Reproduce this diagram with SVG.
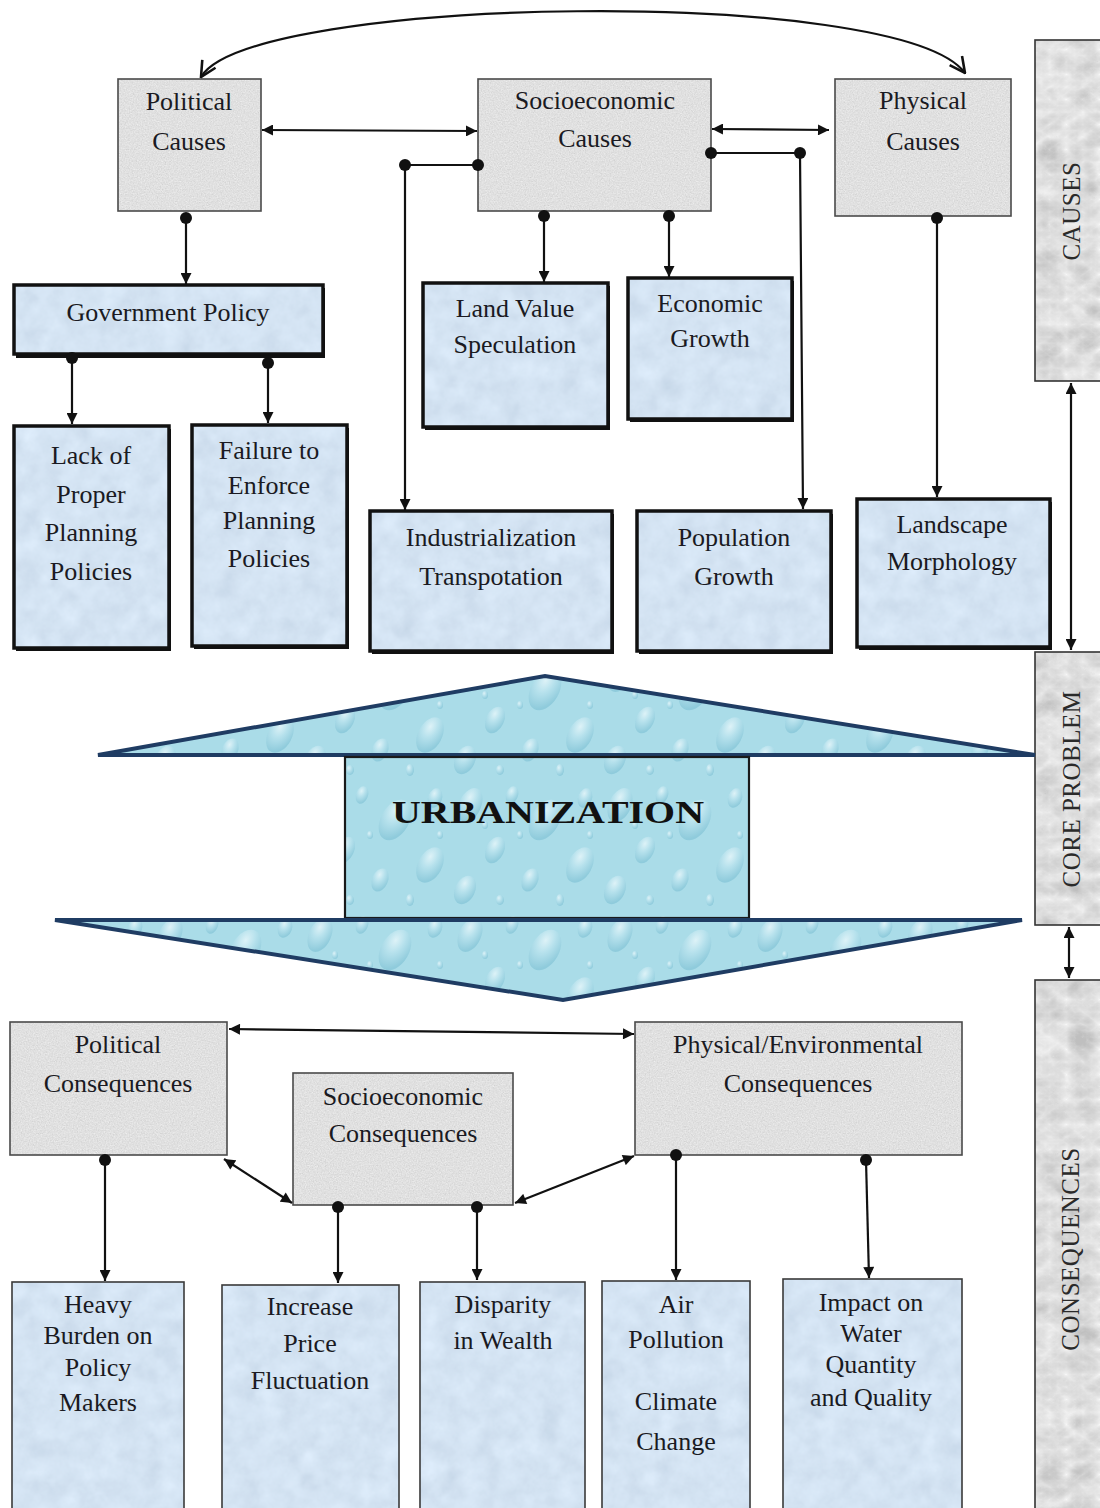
<svg xmlns="http://www.w3.org/2000/svg" width="1100" height="1508" viewBox="0 0 1100 1508">
<style>
text{font-family:"Liberation Serif","Times New Roman","DejaVu Serif",serif;font-size:26px;fill:#1a1a22;text-anchor:middle}
.side{font-size:25px;fill:#2a2a2a;letter-spacing:0.5px}
.gfill{fill:#ebebeb;filter:url(#granite)}
.gbox{fill:none;stroke:#4a4a4a;stroke-width:1.6}
.bfill{fill:#d6e6f6;filter:url(#mottle)}
.bthick{fill:none;stroke:#111;stroke-width:3.5}
.bthin{fill:none;stroke:#3a3a3a;stroke-width:1.6}
.shadow{fill:#111}
.mfill{fill:#e4e4e4;filter:url(#marble)}
.mbox{fill:none;stroke:#333;stroke-width:1.6}
.c{fill:none;stroke:#111;stroke-width:2.2}
.dot{fill:#111}
.ur{font-weight:bold;font-size:32px;fill:#111}
</style>
<defs>
<filter id="granite" x="0" y="0" width="1" height="1">
<feTurbulence type="fractalNoise" baseFrequency="0.75" numOctaves="3" seed="4" result="t"/>
<feColorMatrix in="t" type="matrix" values="0.33 0.33 0.33 0 0 0.33 0.33 0.33 0 0 0.33 0.33 0.33 0 0 0 0 0 0 1" result="g"/>
<feComposite in="g" in2="SourceGraphic" operator="arithmetic" k1="0" k2="0.45" k3="0.92" k4="-0.24" result="m"/>
<feComposite in="m" in2="SourceGraphic" operator="in"/>
</filter>
<filter id="mottle" x="0" y="0" width="1" height="1">
<feTurbulence type="fractalNoise" baseFrequency="0.05" numOctaves="4" seed="7" result="t"/>
<feColorMatrix in="t" type="matrix" values="0.33 0.33 0.33 0 0 0.33 0.33 0.33 0 0 0.33 0.33 0.33 0 0 0 0 0 0 1" result="g"/>
<feComposite in="g" in2="SourceGraphic" operator="arithmetic" k1="0" k2="0.3" k3="0.95" k4="-0.13" result="m"/>
<feComposite in="m" in2="SourceGraphic" operator="in"/>
</filter>
<filter id="marble" x="0" y="0" width="1" height="1">
<feTurbulence type="turbulence" baseFrequency="0.03 0.04" numOctaves="4" seed="11" result="t"/>
<feColorMatrix in="t" type="matrix" values="-0.5 -0.5 -0.5 0 1 -0.5 -0.5 -0.5 0 1 -0.5 -0.5 -0.5 0 1 0 0 0 0 1" result="g"/>
<feComposite in="g" in2="SourceGraphic" operator="arithmetic" k1="0" k2="0.4" k3="0.8" k4="-0.1" result="m"/>
<feComposite in="m" in2="SourceGraphic" operator="in"/>
</filter>
<radialGradient id="drop" cx="0.35" cy="0.3" r="0.7">
<stop offset="0" stop-color="#eefafd"/>
<stop offset="0.45" stop-color="#b9e3ee"/>
<stop offset="1" stop-color="#86c6d8"/>
</radialGradient>
<pattern id="water" patternUnits="userSpaceOnUse" width="150" height="130">
<rect width="150" height="130" fill="#aadce8"/>
<g fill="url(#drop)" opacity="0.75">
<ellipse cx="20" cy="25" rx="11" ry="18" transform="rotate(25 20 25)"/>
<ellipse cx="62" cy="15" rx="6" ry="9" transform="rotate(20 62 15)"/>
<ellipse cx="95" cy="40" rx="14" ry="22" transform="rotate(30 95 40)"/>
<ellipse cx="135" cy="18" rx="7" ry="10" transform="rotate(20 135 18)"/>
<ellipse cx="45" cy="70" rx="9" ry="14" transform="rotate(25 45 70)"/>
<ellipse cx="130" cy="85" rx="12" ry="19" transform="rotate(28 130 85)"/>
<ellipse cx="80" cy="100" rx="8" ry="12" transform="rotate(22 80 100)"/>
<ellipse cx="15" cy="110" rx="10" ry="15" transform="rotate(25 15 110)"/>
<ellipse cx="110" cy="120" rx="4" ry="6"/>
<ellipse cx="70" cy="55" rx="3" ry="4"/>
<ellipse cx="35" cy="45" rx="3" ry="4"/>
<ellipse cx="140" cy="55" rx="3" ry="4"/>
<ellipse cx="50" cy="120" rx="4" ry="5"/>
</g>
</pattern>
<marker id="ah" viewBox="0 0 10 10" refX="10" refY="5" markerWidth="12" markerHeight="11" markerUnits="userSpaceOnUse" orient="auto-start-reverse">
<path d="M0,0 L10,5 L0,10 z" fill="#111"/>
</marker>
<marker id="oh" viewBox="0 0 14 14" refX="13" refY="7" markerWidth="18" markerHeight="18" markerUnits="userSpaceOnUse" orient="auto-start-reverse">
<path d="M1,1 L13,7 L1,13" fill="none" stroke="#111" stroke-width="2"/>
</marker>
</defs>
<rect width="1100" height="1508" fill="#ffffff"/>

<!-- side bars -->
<g id="bar-causes">
<rect class="mfill" x="1035" y="40" width="70" height="341"/>
<rect class="mbox" x="1035" y="40" width="70" height="341"/>
<text class="side" transform="translate(1071,211) rotate(-90)" dy="9">CAUSES</text>
</g>
<g id="bar-core">
<rect class="mfill" x="1035" y="652" width="70" height="273"/>
<rect class="mbox" x="1035" y="652" width="70" height="273"/>
<text class="side" transform="translate(1071,789) rotate(-90)" dy="9">CORE PROBLEM</text>
</g>
<g id="bar-consequences">
<rect class="mfill" x="1035" y="980" width="70" height="540"/>
<rect class="mbox" x="1035" y="980" width="70" height="540"/>
<text class="side" transform="translate(1070,1249) rotate(-90)" dy="9">CONSEQUENCES</text>
</g>

<!-- top causes -->
<g id="political-causes">
<rect class="gfill" x="118" y="79" width="143" height="132"/>
<rect class="gbox" x="118" y="79" width="143" height="132"/>
<text x="189" y="110">Political</text>
<text x="189" y="150">Causes</text>
</g>
<g id="socioeconomic-causes">
<rect class="gfill" x="478" y="79" width="233" height="132"/>
<rect class="gbox" x="478" y="79" width="233" height="132"/>
<text x="595" y="109">Socioeconomic</text>
<text x="595" y="147">Causes</text>
</g>
<g id="physical-causes">
<rect class="gfill" x="835" y="79" width="176" height="137"/>
<rect class="gbox" x="835" y="79" width="176" height="137"/>
<text x="923" y="109">Physical</text>
<text x="923" y="150">Causes</text>
</g>

<g id="government-policy">
<rect class="shadow" x="16" y="288" width="309" height="70"/>
<rect class="bfill" x="14" y="285" width="309" height="69"/>
<rect class="bthick" x="14" y="285" width="309" height="69"/>
<text x="168" y="321">Government Policy</text>
</g>
<g id="lack-of-proper">
<rect class="shadow" x="16" y="429" width="155" height="222"/>
<rect class="bfill" x="14" y="426" width="155" height="222"/>
<rect class="bthick" x="14" y="426" width="155" height="222"/>
<text x="91" y="464">Lack of</text>
<text x="91" y="503">Proper</text>
<text x="91" y="541">Planning</text>
<text x="91" y="580">Policies</text>
</g>
<g id="failure-to-enforce">
<rect class="shadow" x="194" y="428" width="155" height="221"/>
<rect class="bfill" x="192" y="425" width="155" height="221"/>
<rect class="bthick" x="192" y="425" width="155" height="221"/>
<text x="269" y="459">Failure to</text>
<text x="269" y="494">Enforce</text>
<text x="269" y="529">Planning</text>
<text x="269" y="567">Policies</text>
</g>
<g id="land-value">
<rect class="shadow" x="425" y="286" width="185" height="144"/>
<rect class="bfill" x="423" y="283" width="185" height="144"/>
<rect class="bthick" x="423" y="283" width="185" height="144"/>
<text x="515" y="317">Land Value</text>
<text x="515" y="353">Speculation</text>
</g>
<g id="economic-growth">
<rect class="shadow" x="630" y="281" width="164" height="141"/>
<rect class="bfill" x="628" y="278" width="164" height="141"/>
<rect class="bthick" x="628" y="278" width="164" height="141"/>
<text x="710" y="312">Economic</text>
<text x="710" y="347">Growth</text>
</g>
<g id="industrialization">
<rect class="shadow" x="372" y="514" width="242" height="140"/>
<rect class="bfill" x="370" y="511" width="242" height="140"/>
<rect class="bthick" x="370" y="511" width="242" height="140"/>
<text x="491" y="546">Industrialization</text>
<text x="491" y="585">Transpotation</text>
</g>
<g id="population-growth">
<rect class="shadow" x="639" y="514" width="194" height="140"/>
<rect class="bfill" x="637" y="511" width="194" height="140"/>
<rect class="bthick" x="637" y="511" width="194" height="140"/>
<text x="734" y="546">Population</text>
<text x="734" y="585">Growth</text>
</g>
<g id="landscape-morphology">
<rect class="shadow" x="859" y="502" width="193" height="148"/>
<rect class="bfill" x="857" y="499" width="193" height="148"/>
<rect class="bthick" x="857" y="499" width="193" height="148"/>
<text x="952" y="533">Landscape</text>
<text x="952" y="570">Morphology</text>
</g>

<!-- core problem -->
<g id="urbanization">
<polygon points="98,755 545,676 1035,755" fill="url(#water)" stroke="#1f3c63" stroke-width="4" stroke-linejoin="miter"/>
<rect x="345" y="757" width="404" height="161" fill="url(#water)" stroke="#1a1a1a" stroke-width="2.2"/>
<polygon points="55,920 1022,920 563,1000" fill="url(#water)" stroke="#1f3c63" stroke-width="4"/>
<text class="ur" x="548" y="823" textLength="312" lengthAdjust="spacingAndGlyphs">URBANIZATION</text>
</g>

<!-- consequences -->
<g id="political-consequences">
<rect class="gfill" x="10" y="1022" width="217" height="133"/>
<rect class="gbox" x="10" y="1022" width="217" height="133"/>
<text x="118" y="1053">Political</text>
<text x="118" y="1092">Consequences</text>
</g>
<g id="socioeconomic-consequences">
<rect class="gfill" x="293" y="1073" width="220" height="132"/>
<rect class="gbox" x="293" y="1073" width="220" height="132"/>
<text x="403" y="1105">Socioeconomic</text>
<text x="403" y="1142">Consequences</text>
</g>
<g id="physical-environmental-consequences">
<rect class="gfill" x="635" y="1022" width="327" height="133"/>
<rect class="gbox" x="635" y="1022" width="327" height="133"/>
<text x="798" y="1053">Physical/Environmental</text>
<text x="798" y="1092">Consequences</text>
</g>

<g id="heavy-burden">
<rect class="bfill" x="12" y="1282" width="172" height="240"/>
<rect class="bthin" x="12" y="1282" width="172" height="240"/>
<text x="98" y="1313">Heavy</text>
<text x="98" y="1344">Burden on</text>
<text x="98" y="1376">Policy</text>
<text x="98" y="1411">Makers</text>
</g>
<g id="increase-price">
<rect class="bfill" x="222" y="1285" width="177" height="240"/>
<rect class="bthin" x="222" y="1285" width="177" height="240"/>
<text x="310" y="1315">Increase</text>
<text x="310" y="1352">Price</text>
<text x="310" y="1389">Fluctuation</text>
</g>
<g id="disparity-wealth">
<rect class="bfill" x="420" y="1282" width="165" height="240"/>
<rect class="bthin" x="420" y="1282" width="165" height="240"/>
<text x="503" y="1313">Disparity</text>
<text x="503" y="1349">in Wealth</text>
</g>
<g id="air-pollution">
<rect class="bfill" x="602" y="1281" width="148" height="240"/>
<rect class="bthin" x="602" y="1281" width="148" height="240"/>
<text x="676" y="1313">Air</text>
<text x="676" y="1348">Pollution</text>
<text x="676" y="1410">Climate</text>
<text x="676" y="1450">Change</text>
</g>
<g id="impact-water">
<rect class="bfill" x="783" y="1279" width="179" height="240"/>
<rect class="bthin" x="783" y="1279" width="179" height="240"/>
<text x="871" y="1311">Impact on</text>
<text x="871" y="1342">Water</text>
<text x="871" y="1373">Quantity</text>
<text x="871" y="1406">and Quality</text>
</g>

<!-- connectors -->
<g id="connectors">
<path class="c" d="M201,77 C250,-5 900,-15 965,73" stroke-width="2.6" marker-start="url(#oh)" marker-end="url(#oh)"/>
<path class="c" d="M262,130 L477,131" marker-start="url(#ah)" marker-end="url(#ah)"/>
<path class="c" d="M712,129 L829,130" marker-start="url(#ah)" marker-end="url(#ah)"/>
<path class="c" d="M478,165 H405 V510" marker-end="url(#ah)"/>
<circle class="dot" cx="478" cy="165" r="6"/>
<circle class="dot" cx="405" cy="165" r="6"/>
<path class="c" d="M711,153 H800 L803,509" marker-end="url(#ah)"/>
<circle class="dot" cx="711" cy="153" r="6"/>
<circle class="dot" cx="800" cy="153" r="6"/>
<path class="c" d="M544,216 V282" marker-end="url(#ah)"/>
<circle class="dot" cx="544" cy="216" r="6"/>
<path class="c" d="M669,216 V277" marker-end="url(#ah)"/>
<circle class="dot" cx="669" cy="216" r="6"/>
<path class="c" d="M186,218 V284" marker-end="url(#ah)"/>
<circle class="dot" cx="186" cy="218" r="6"/>
<path class="c" d="M937,218 V497" marker-end="url(#ah)"/>
<circle class="dot" cx="937" cy="218" r="6"/>
<path class="c" d="M72,358 V424" marker-end="url(#ah)"/>
<circle class="dot" cx="72" cy="358" r="6"/>
<path class="c" d="M268,363 V423" marker-end="url(#ah)"/>
<circle class="dot" cx="268" cy="363" r="6"/>
<path class="c" d="M1071,383 V650" marker-start="url(#ah)" marker-end="url(#ah)"/>
<path class="c" d="M1069,927 V978" marker-start="url(#ah)" marker-end="url(#ah)"/>
<path class="c" d="M229,1029 L634,1034" stroke-width="2.6" marker-start="url(#ah)" marker-end="url(#ah)"/>
<path class="c" d="M224,1159 L292,1203" stroke-width="2.6" marker-start="url(#ah)" marker-end="url(#ah)"/>
<path class="c" d="M515,1203 L634,1156" stroke-width="2.6" marker-start="url(#ah)" marker-end="url(#ah)"/>
<path class="c" d="M105,1160 V1281" stroke-width="2.6" marker-end="url(#ah)"/>
<circle class="dot" cx="105" cy="1160" r="6"/>
<path class="c" d="M338,1207 V1283" stroke-width="2.6" marker-end="url(#ah)"/>
<circle class="dot" cx="338" cy="1207" r="6"/>
<path class="c" d="M477,1207 V1280" stroke-width="2.6" marker-end="url(#ah)"/>
<circle class="dot" cx="477" cy="1207" r="6"/>
<path class="c" d="M676,1155 V1280" stroke-width="2.6" marker-end="url(#ah)"/>
<circle class="dot" cx="676" cy="1155" r="6"/>
<path class="c" d="M866,1160 L869,1278" stroke-width="2.6" marker-end="url(#ah)"/>
<circle class="dot" cx="866" cy="1160" r="6"/>
</g>
</svg>
